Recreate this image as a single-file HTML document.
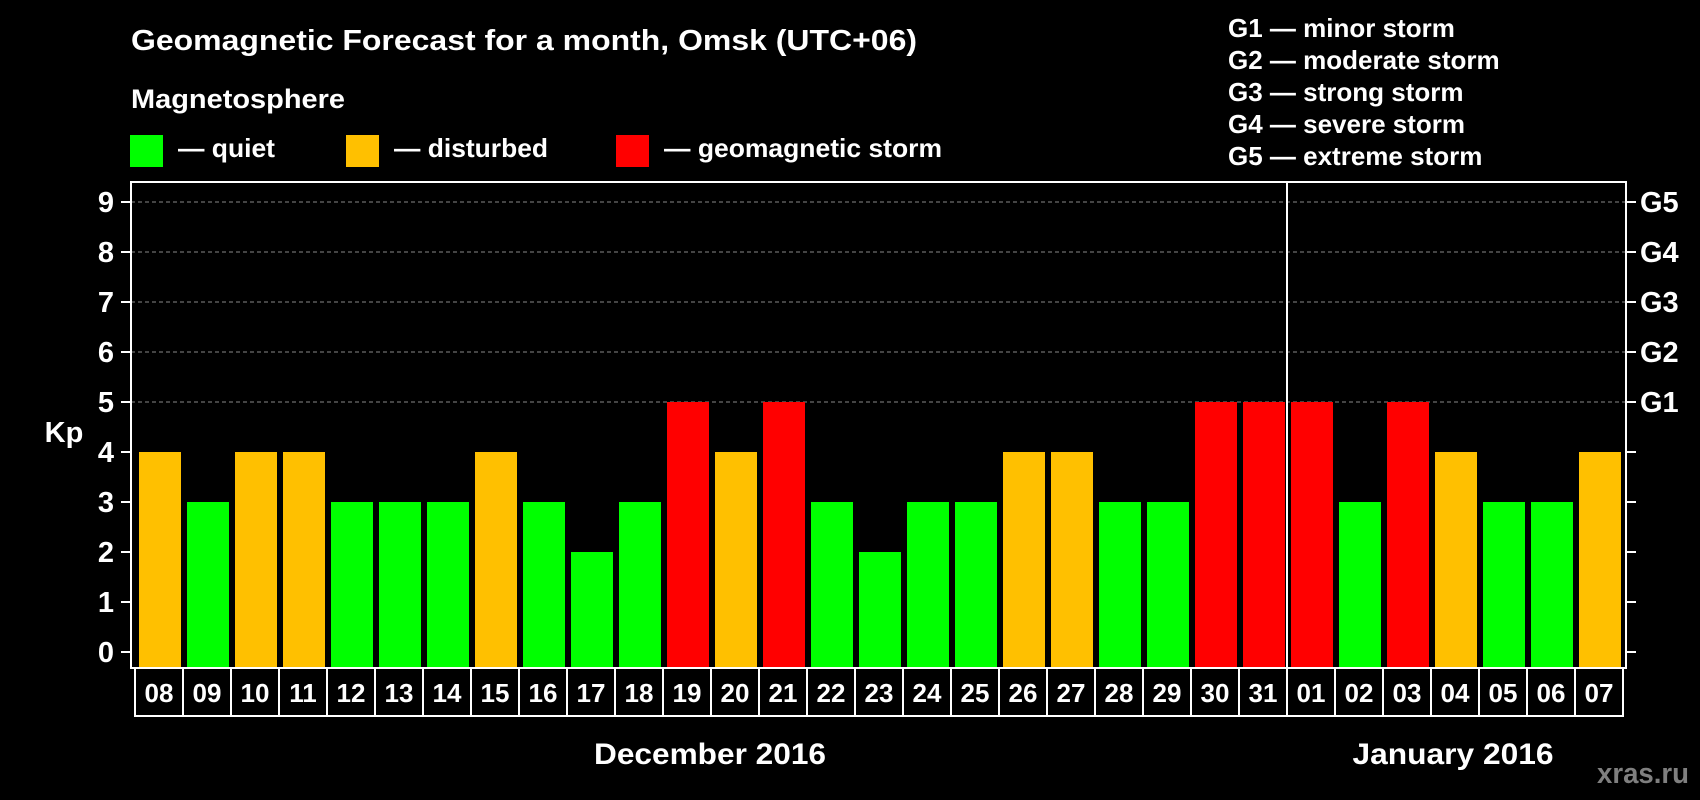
<!DOCTYPE html>
<html><head><meta charset="utf-8"><style>
html,body{margin:0;padding:0;background:#000;}
svg{display:block;font-family:"Liberation Sans",Arial,sans-serif;font-weight:bold;}
</style></head><body>
<svg id="chart" width="1700" height="800" viewBox="0 0 1700 800">
<rect x="0" y="0" width="1700" height="800" fill="#000"/>
<text x="131" y="50" fill="#fff" font-size="29" textLength="786" lengthAdjust="spacingAndGlyphs">Geomagnetic Forecast for a month, Omsk (UTC+06)</text>
<text x="131" y="108" fill="#fff" font-size="27" textLength="214" lengthAdjust="spacingAndGlyphs">Magnetosphere</text>
<g>
<rect x="130" y="135" width="33" height="32" fill="#00ff00"/>
<text x="178" y="157" fill="#fff" font-size="26" textLength="97" lengthAdjust="spacingAndGlyphs">— quiet</text></g>
<g>
<rect x="346" y="135" width="33" height="32" fill="#ffc000"/>
<text x="394" y="157" fill="#fff" font-size="26" textLength="154" lengthAdjust="spacingAndGlyphs">— disturbed</text></g>
<g>
<rect x="616" y="135" width="33" height="32" fill="#ff0000"/>
<text x="664" y="157" fill="#fff" font-size="26" textLength="278" lengthAdjust="spacingAndGlyphs">— geomagnetic storm</text></g>
<g font-size="26" fill="#fff">
<text x="1228" y="37">G1 — minor storm</text>
<text x="1228" y="69">G2 — moderate storm</text>
<text x="1228" y="101">G3 — strong storm</text>
<text x="1228" y="133">G4 — severe storm</text>
<text x="1228" y="165">G5 — extreme storm</text>
</g>
<text x="64" y="442" fill="#fff" font-size="29" text-anchor="middle">Kp</text>
<g id="grid"></g>
<g id="bars"></g>
<g id="axes"></g>
<text x="710" y="764" fill="#fff" font-size="30" text-anchor="middle" textLength="232" lengthAdjust="spacingAndGlyphs">December 2016</text>
<text x="1453" y="764" fill="#fff" font-size="30" text-anchor="middle" textLength="201" lengthAdjust="spacingAndGlyphs">January 2016</text>
<text x="1597" y="783" fill="#7f7f7f" font-size="29" textLength="92" lengthAdjust="spacingAndGlyphs">xras.ru</text>
</svg>
<script>
const days = ["08","09","10","11","12","13","14","15","16","17","18","19","20","21","22","23","24","25","26","27","28","29","30","31","01","02","03","04","05","06","07"];
const kpValues = [4,3,4,4,3,3,3,4,3,2,3,5,4,5,3,2,3,3,4,4,3,3,5,5,5,3,5,4,3,3,4];
const yTicks = [0,1,2,3,4,5,6,7,8,9];
const gLabels = ["G1","G2","G3","G4","G5"];
const gLevels = [5,6,7,8,9];
const monthBreakIndex = 24;

const NS = "http://www.w3.org/2000/svg";
const plotL = 131, plotR = 1626, plotT = 182, plotB = 668;
const y0 = 652, yUnit = 50;
const barStart = 139, pitch = 48, barW = 42;
const boxStart = 135, boxH = 48;
function yScale(v){ return y0 - v * yUnit; }
function xScale(i){ return barStart + i * pitch; }
function mk(tag, attrs, parent){ const e = document.createElementNS(NS, tag); for (const k in attrs) e.setAttribute(k, attrs[k]); parent.appendChild(e); return e; }
function colorFor(v){ return v >= 5 ? "#ff0000" : (v >= 4 ? "#ffc000" : "#00ff00"); }

const grid = document.getElementById("grid");
const bars = document.getElementById("bars");
const axes = document.getElementById("axes");

yTicks.forEach(function(t){
  if (t >= 5) {
    const gl = mk("line", {x1: plotL, x2: plotR, y1: yScale(t), y2: yScale(t), stroke: "#888", "stroke-width": 1, "stroke-dasharray": "4,3"}, grid);
    
    
  }
  const lt = mk("line", {x1: plotL - 10, x2: plotL, y1: yScale(t), y2: yScale(t), stroke: "#fff", "stroke-width": 2}, axes);
  
  
  const rt = mk("line", {x1: plotR, x2: plotR + 10, y1: yScale(t), y2: yScale(t), stroke: "#fff", "stroke-width": 2}, axes);
  
  
  const tx = mk("text", {x: 106, y: yScale(t) + 10, fill: "#fff", "font-size": 29, "text-anchor": "middle"}, axes);
  tx.textContent = String(t);
  
  
});

gLabels.forEach(function(g, i){
  const tx = mk("text", {x: 1640, y: yScale(gLevels[i]) + 10, fill: "#fff", "font-size": 29}, axes);
  tx.textContent = g;
  
  
});

kpValues.forEach(function(v, i){
  const b = mk("rect", {x: xScale(i), y: yScale(v), width: barW, height: plotB - 1 - yScale(v), fill: colorFor(v)}, bars);
  
  
});

const frame = mk("rect", {x: plotL, y: plotT, width: plotR - plotL, height: plotB - plotT, fill: "none", stroke: "#fff", "stroke-width": 2}, axes);



days.forEach(function(d, i){
  const bx = boxStart + i * pitch;
  const box = mk("rect", {x: bx, y: plotB, width: pitch, height: boxH, fill: "#000", stroke: "#fff", "stroke-width": 2}, axes);
  
  
  const tx = mk("text", {x: bx + pitch / 2, y: plotB + 34, fill: "#fff", "font-size": 26, "text-anchor": "middle"}, axes);
  tx.textContent = d;
  
  
});

const sepX = boxStart + monthBreakIndex * pitch;
const sep = mk("line", {x1: sepX, x2: sepX, y1: plotT, y2: plotB + boxH, stroke: "#fff", "stroke-width": 2}, axes);


</script>
</body></html>
